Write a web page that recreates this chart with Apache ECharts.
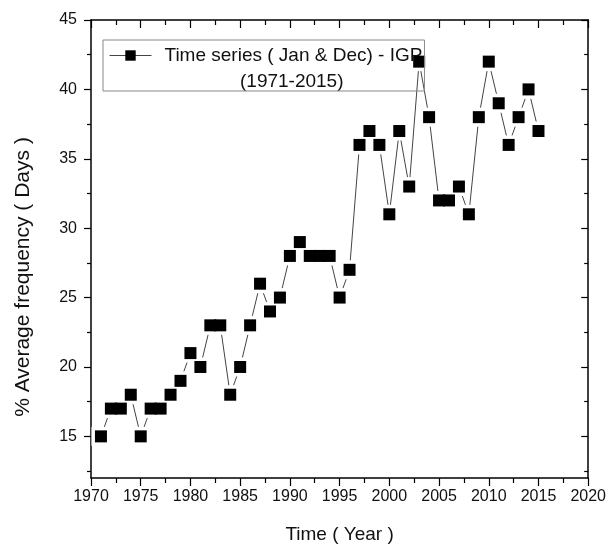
<!DOCTYPE html>
<html>
<head>
<meta charset="utf-8">
<script src="https://cdn.jsdelivr.net/npm/echarts@6/dist/echarts.min.js"></script>
<style>
html,body{margin:0;padding:0;background:#fff;}
#chart{width:609px;height:549px;}
</style>
</head>
<body>
<div id="chart"></div>
<script>
// Data
const years = [1971,1972,1973,1974,1975,1976,1977,1978,1979,1980,
               1981,1982,1983,1984,1985,1986,1987,1988,1989,1990,
               1991,1992,1993,1994,1995,1996,1997,1998,1999,2000,
               2001,2002,2003,2004,2005,2006,2007,2008,2009,2010,
               2011,2012,2013,2014,2015];
const values = [15,17,17,18,15,17,17,18,19,21,
                20,23,23,18,20,23,26,24,25,28,
                29,28,28,28,25,27,36,37,36,31,
                37,33,42,38,32,32,33,31,38,42,
                39,36,38,40,37];
const yTicks = [15,20,25,30,35,40,45];
const yMinorTicks = [12.5,17.5,22.5,27.5,32.5,37.5,42.5];
const seriesName = 'Time series ( Jan & Dec) - IGP';
const seriesPeriod = '(1971-2015)';
const xTitle = 'Time ( Year )';
const yTitle = '% Average frequency ( Days )';

const FONT = "'Liberation Sans', Arial, sans-serif";
const TXT = '#111';
const pts = years.map((y, i) => [y, values[i]]);

const axisLine = {show: true, lineStyle: {color: '#000', width: 1.5}};

const chart = echarts.init(document.getElementById('chart'), null, {renderer: 'canvas'});
chart.setOption({
  backgroundColor: '#fff',
  animation: false,
  grid: {left: 91, right: 18, top: 20, bottom: 67},
  legend: {
    left: 103, top: 40,
    orient: 'horizontal',
    padding: [6, 2, 26, 6],
    borderColor: '#888', borderWidth: 1,
    itemWidth: 42, itemHeight: 13,
    textStyle: {fontFamily: FONT, fontSize: 19, color: TXT, padding: [0, 0, 0, 8]},
    data: [{name: seriesName,
            itemStyle: {color: '#000', opacity: 1},
            lineStyle: {color: '#444', width: 1}}]
  },
  graphic: [{
    type: 'text', left: 240, top: 72,
    style: {text: seriesPeriod, font: '19px ' + FONT, fill: TXT}
  }],
  xAxis: [{
    type: 'value', position: 'bottom', min: 1970, max: 2020, interval: 5,
    axisLine: axisLine,
    axisTick: {show: true, inside: false, length: 8, lineStyle: {color: '#000', width: 1.2}},
    minorTick: {show: true, splitNumber: 2, length: 5, lineStyle: {color: '#000', width: 1.2}},
    splitLine: {show: false}, minorSplitLine: {show: false},
    axisLabel: {fontFamily: FONT, fontSize: 16, color: TXT, margin: 11,
                formatter: v => String(v)},
    name: xTitle, nameLocation: 'middle', nameGap: 47,
    nameTextStyle: {fontFamily: FONT, fontSize: 19, color: TXT}
  }, {
    type: 'value', position: 'top', min: 1970, max: 2020, interval: 5,
    axisLine: axisLine,
    axisTick: {show: true, inside: true, length: 8, lineStyle: {color: '#000', width: 1.2}},
    minorTick: {show: true, splitNumber: 2, length: 5, lineStyle: {color: '#000', width: 1.2}},
    splitLine: {show: false}, axisLabel: {show: false}
  }],
  yAxis: [{
    type: 'value', position: 'left', min: 12, max: 45,
    axisLine: axisLine,
    axisTick: {show: true, inside: false, length: 7, customValues: yTicks, lineStyle: {color: '#000', width: 1.2}},
    axisLabel: {fontFamily: FONT, fontSize: 16, color: TXT, margin: 14, customValues: yTicks,
                formatter: v => String(v)},
    splitLine: {show: false},
    name: yTitle, nameLocation: 'middle', nameGap: 57, nameRotate: 90,
    nameTextStyle: {fontFamily: FONT, fontSize: 21, color: TXT, padding: [0, 56, 0, 0]}
  }, {
    type: 'value', position: 'left', min: 12, max: 45,
    axisLine: {show: false},
    axisTick: {show: true, inside: false, length: 4, customValues: yMinorTicks, lineStyle: {color: '#000', width: 1.2}},
    axisLabel: {show: false}, splitLine: {show: false}
  }, {
    type: 'value', position: 'right', min: 12, max: 45,
    axisLine: axisLine,
    axisTick: {show: true, inside: true, length: 7, customValues: yTicks, lineStyle: {color: '#000', width: 1.2}},
    axisLabel: {show: false}, splitLine: {show: false}
  }, {
    type: 'value', position: 'right', min: 12, max: 45,
    axisLine: {show: false},
    axisTick: {show: true, inside: true, length: 4, customValues: yMinorTicks, lineStyle: {color: '#000', width: 1.2}},
    axisLabel: {show: false}, splitLine: {show: false}
  }],
  series: [{
    name: seriesName, type: 'line', xAxisIndex: 0, yAxisIndex: 0,
    data: pts,
    symbol: 'rect', symbolSize: 19, showAllSymbol: true,
    itemStyle: {color: '#fff', opacity: 1},
    lineStyle: {color: '#444', width: 1},
    z: 2
  }, {
    name: 'markers', type: 'scatter', xAxisIndex: 0, yAxisIndex: 0,
    data: pts,
    symbol: 'rect', symbolSize: 12,
    itemStyle: {color: '#000', opacity: 1},
    z: 3
  }]
});
</script>
</body>
</html>
